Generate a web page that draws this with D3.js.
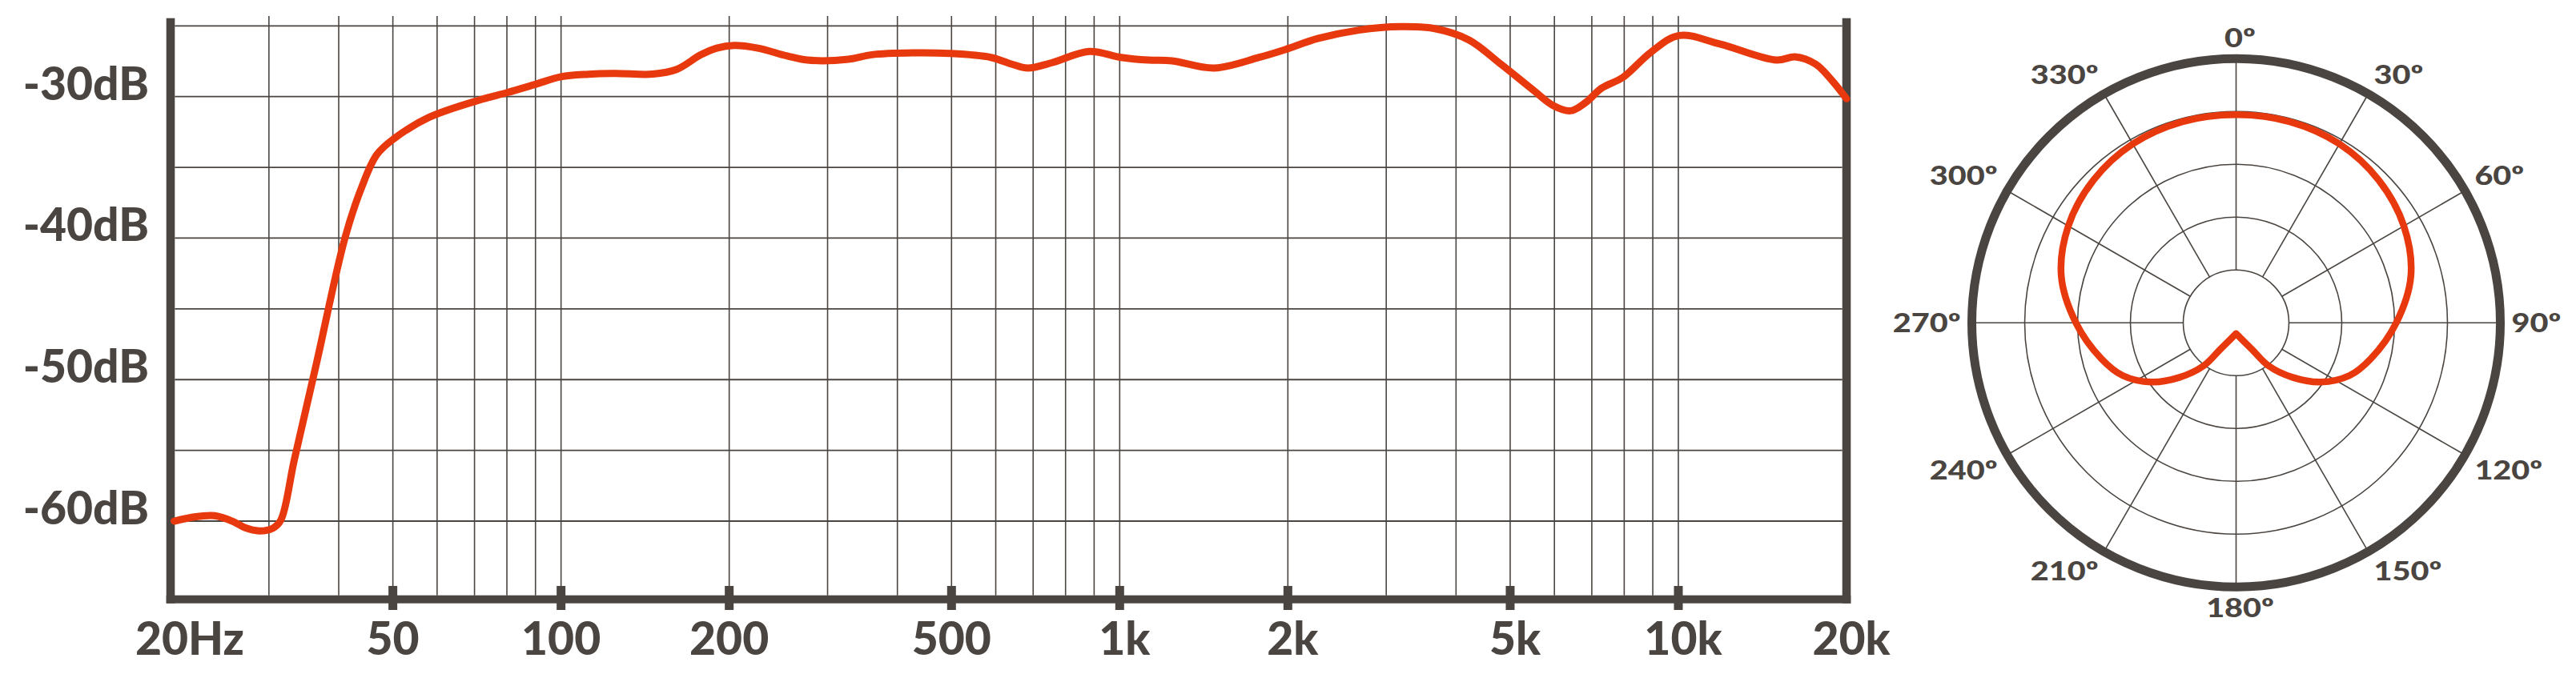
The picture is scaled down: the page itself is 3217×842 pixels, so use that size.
<!DOCTYPE html>
<html>
<head>
<meta charset="utf-8">
<script src="https://cdn.jsdelivr.net/npm/d3@7"></script>
<style>
  html, body { margin: 0; padding: 0; background: #ffffff; }
  svg { display: block; }
  text { font-family: Lato, "Open Sans", sans-serif; font-weight: 900; fill: #4a4541; }
</style>
</head>
<body>
<svg id="chart" width="3217" height="842"></svg>
<script>
// ---------- Frequency response data ----------
const freqs = [20.3, 22.2, 24.0, 25.9, 27.2, 28.8, 30.5, 31.5, 33.3, 36.5, 41, 44, 46.8, 50.2, 58, 72,
  80, 90, 100, 112, 125, 146, 161, 178, 190, 204, 225, 254, 276, 327, 360, 426, 496, 588, 640, 684, 757,
  882, 1006, 1126, 1240, 1476, 1776, 1984, 2261, 2680, 3180, 3680, 4220, 4810, 5514, 5965, 6412,
  6816, 7292, 7957, 8938, 10030, 11854, 14990, 16180, 17600, 18780, 20000];
const levels = [-60.0, -59.69, -59.62, -60.03, -60.47, -60.69, -60.5, -59.94, -55.68, -48.84, -40.05, -36.37, -34.1, -32.98, -31.47, -30.2,
  -29.72, -29.13, -28.6, -28.42, -28.36, -28.41, -28.08, -27.04, -26.57, -26.38, -26.57, -27.13, -27.42, -27.36, -27.04, -26.91, -26.95, -27.23, -27.7, -27.98, -27.6,
  -26.81, -27.23, -27.42, -27.47, -27.98, -27.23, -26.66, -25.9, -25.3, -25.06, -25.21, -26.0, -27.7, -29.58, -30.62, -31.0,
  -30.43, -29.4, -28.64, -26.85, -25.68, -26.28, -27.42, -27.19, -27.7, -28.8, -30.15];

const dbGrid = [-25, -30, -35, -40, -45, -50, -55, -60];
const dbTicks = [-30, -40, -50, -60];
const dbTickLabels = ["-30dB", "-40dB", "-50dB", "-60dB"];

const freqGrid = [30, 40, 50, 60, 70, 80, 90, 100, 200, 300, 400, 500, 600, 700, 800, 900,
  1000, 2000, 3000, 4000, 5000, 6000, 7000, 8000, 9000, 10000];
const freqMarks = [50, 100, 200, 500, 1000, 2000, 5000, 10000];
const freqTicks = [20, 50, 100, 200, 500, 1000, 2000, 5000, 10000, 20000];
const freqTickLabels = ["20Hz", "50", "100", "200", "500", "1k", "2k", "5k", "10k", "20k"];

// ---------- Polar pattern data (relative level, dB) ----------
const polarAngles = [-180, -165, -149, -143, -134, -125, -115, -105, -90, -75, -60, -45, -30, -15, 0,
  15, 30, 45, 60, 75, 90, 105, 115, 125, 134, 143, 149, 165, 180];
const polarLevels = [-23.98, -23.56, -22.05, -19.92, -17.58, -15.23, -13.18, -11.82, -9.85, -7.88, -6.67, -5.91, -5.45, -5.3, -5.3,
  -5.3, -5.45, -5.91, -6.67, -7.88, -9.85, -11.82, -13.18, -15.23, -17.58, -19.92, -22.05, -23.56, -23.98];
const polarRings = [-20, -15, -10, -5];
const polarSpokes = [0, 30, 60, 90, 120, 150, 180, 210, 240, 270, 300, 330];
const polarLabels = ["0º", "30º", "60º", "90º", "120º", "150º", "180º", "210º", "240º", "270º", "300º", "330º"];

// ---------- Styles ----------
const ink = "#4a4541";
const red = "#e8390e";

const svg = d3.select("#chart");
svg.append("rect").attr("width", 3217).attr("height", 842).attr("fill", "#fff");

// ---------- Frequency response chart ----------
const x = d3.scaleLog().domain([20, 20000]).range([213, 2306]);
const y = d3.scaleLinear().domain([-65, -25]).range([739.4, 32.3]);
const fr = svg.append("g");

const axisHalf = 5.3;
const plotLeft = x(20) + axisHalf, plotRight = x(20000) - axisHalf;
const plotBottom = 743.7;

// vertical grid
fr.append("g").selectAll("line").data(freqGrid).join("line")
  .attr("x1", d => x(d)).attr("x2", d => x(d))
  .attr("y1", 20).attr("y2", plotBottom)
  .attr("stroke", ink).attr("stroke-width", 1.6);

// horizontal grid
fr.append("g").selectAll("line").data(dbGrid).join("line")
  .attr("x1", plotLeft).attr("x2", plotRight)
  .attr("y1", d => y(d)).attr("y2", d => y(d))
  .attr("stroke", ink).attr("stroke-width", 1.8);

// frame bars
fr.append("rect").attr("x", x(20) - axisHalf).attr("y", 22.7)
  .attr("width", axisHalf * 2).attr("height", 753.7 - 22.7).attr("fill", ink);
fr.append("rect").attr("x", x(20000) - axisHalf).attr("y", 22.7)
  .attr("width", axisHalf * 2).attr("height", 753.7 - 22.7).attr("fill", ink);
fr.append("rect").attr("x", x(20) - axisHalf).attr("y", plotBottom)
  .attr("width", x(20000) - x(20) + axisHalf * 2).attr("height", 10).attr("fill", ink);

// tick marks on bottom axis
fr.append("g").selectAll("rect").data(freqMarks).join("rect")
  .attr("x", d => x(d) - 5.5).attr("y", 732)
  .attr("width", 11).attr("height", 30).attr("fill", ink);

// response curve
const frLine = d3.line()
  .x((d, i) => x(freqs[i]))
  .y(d => y(d))
  .curve(d3.curveCatmullRom.alpha(0.5));
fr.append("path").datum(levels)
  .attr("d", frLine)
  .attr("fill", "none").attr("stroke", red).attr("stroke-width", 9)
  .attr("stroke-linecap", "round").attr("stroke-linejoin", "round");

// y labels
fr.append("g").selectAll("text").data(dbTicks).join("text")
  .attr("x", 186).attr("y", d => y(d) + 4)
  .attr("text-anchor", "end").attr("font-size", 57)
  .text((d, i) => dbTickLabels[i]);

// x labels
fr.append("g").selectAll("text").data(freqTicks).join("text")
  .attr("x", d => x(d)).attr("y", 817.7)
  .attr("dx", (d, i) => freqTickLabels[i].endsWith("Hz") ? 24 : (freqTickLabels[i].endsWith("k") ? 6 : 0))
  .attr("text-anchor", "middle").attr("font-size", 57)
  .text((d, i) => freqTickLabels[i]);

// ---------- Polar chart ----------
const cx = 2792.5, cy = 403.3;
const r = d3.scaleLinear().domain([-25, 0]).range([0, 330]);
const pg = svg.append("g").attr("transform", `translate(${cx},${cy})`);

// rings
pg.append("g").selectAll("circle").data(polarRings).join("circle")
  .attr("r", d => r(d)).attr("fill", "none")
  .attr("stroke", ink).attr("stroke-width", 1.6);

// spokes
const rad = a => a * Math.PI / 180;
pg.append("g").selectAll("line").data(polarSpokes).join("line")
  .attr("x1", d => Math.sin(rad(d)) * r(-20)).attr("y1", d => -Math.cos(rad(d)) * r(-20))
  .attr("x2", d => Math.sin(rad(d)) * r(0)).attr("y2", d => -Math.cos(rad(d)) * r(0))
  .attr("stroke", ink).attr("stroke-width", 1.6);

// outer ring
pg.append("circle").attr("r", r(0)).attr("fill", "none")
  .attr("stroke", ink).attr("stroke-width", 11);

// pattern
const polarLine = d3.lineRadial()
  .angle((d, i) => rad(polarAngles[i]))
  .radius(d => r(d))
  .curve(d3.curveCatmullRom.alpha(0.5));
pg.append("path").datum(polarLevels)
  .attr("d", polarLine)
  .attr("fill", "none").attr("stroke", red).attr("stroke-width", 8.5)
  .attr("stroke-linejoin", "round").attr("stroke-linecap", "round");

// labels: corner nearest the centre sits on the spoke just outside the ring
const capH = 23.6;
const labelR = 344;
pg.append("g").selectAll("text").data(polarSpokes).join("text")
  .attr("font-size", 33)
  .text((d, i) => polarLabels[i])
  .each(function(d) {
    const s = Math.sin(rad(d)), c = Math.cos(rad(d));
    const px = s * labelR, py = -c * labelR;
    const anchor = s > 0.01 ? "start" : (s < -0.01 ? "end" : "middle");
    const base = c > 0.01 ? py : (c < -0.01 ? py + capH : py + capH / 2);
    d3.select(this)
      .attr("text-anchor", anchor)
      .attr("transform", `translate(${px + (anchor === "middle" ? 5 : 0)},${base}) scale(1.2,1)`);
  });
</script>
</body>
</html>
